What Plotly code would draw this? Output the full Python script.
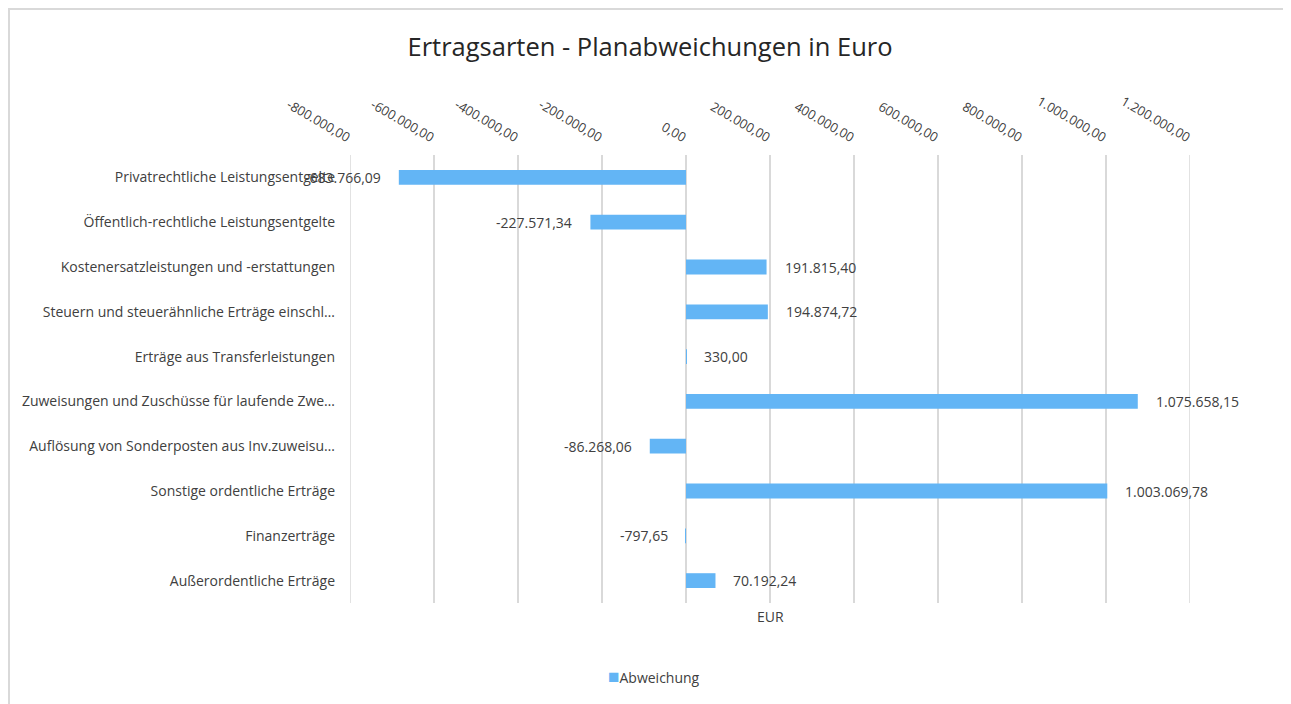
import plotly.graph_objects as go

categories = [
    "Privatrechtliche Leistungsentgelte",
    "Öffentlich-rechtliche Leistungsentgelte",
    "Kostenersatzleistungen und -erstattungen",
    "Steuern und steuerähnliche Erträge einschl…",
    "Erträge aus Transferleistungen",
    "Zuweisungen und Zuschüsse für laufende Zwe…",
    "Auflösung von Sonderposten aus Inv.zuweisu…",
    "Sonstige ordentliche Erträge",
    "Finanzerträge",
    "Außerordentliche Erträge",
]
abweichung = [
    -683766.09,
    -227571.34,
    191815.40,
    194874.72,
    330.00,
    1075658.15,
    -86268.06,
    1003069.78,
    -797.65,
    70192.24,
]
tick_values = [-800000, -600000, -400000, -200000, 0, 200000, 400000, 600000, 800000, 1000000, 1200000]


def de_fmt(v):
    s = f"{v:,.2f}"
    return s.replace(",", "X").replace(".", ",").replace("X", ".")


tick_text = [de_fmt(v) for v in tick_values]
value_text = [de_fmt(v) for v in abweichung]

W, H = 1283, 696
L, R, T, B = 342, 101, 147, 101
pw, ph = W - L - R, H - T - B


def px_x(p):
    return (p - L) / pw


def px_y(p):
    return (H - B - p) / ph


FONT = "Open Sans"
TXT = "#404040"
BAR = "#63B5F5"
GRID = "#d9d9d9"

fig = go.Figure()
fig.add_trace(go.Bar(
    y=categories,
    x=abweichung,
    orientation="h",
    name="Abweichung",
    marker=dict(color=BAR, line=dict(width=0)),
    width=0.33,
    showlegend=False,
))

annotations = []
for cat, val, txt in zip(categories, abweichung, value_text):
    annotations.append(dict(
        x=val, y=cat, xref="x", yref="y",
        text=txt, showarrow=False,
        xanchor="left" if val >= 0 else "right",
        xshift=16 if val >= 0 else -16,
        yanchor="middle",
        font=dict(family=FONT, size=14, color=TXT),
    ))

annotations.append(dict(
    text="EUR", xref="paper", x=0.5, yref="paper", y=0, yshift=-13,
    xanchor="center", yanchor="middle", showarrow=False,
    font=dict(family=FONT, size=14, color=TXT),
))
annotations.append(dict(
    text=f"<span style='color:{BAR};font-size:19px'>■</span>Abweichung",
    xref="paper", x=px_x(646), yref="paper", y=px_y(668),
    xanchor="center", yanchor="middle", showarrow=False,
    font=dict(family=FONT, size=14, color=TXT),
))

shapes = [
    dict(type="line", xref="paper", yref="paper",
         x0=px_x(0), x1=px_x(W), y0=px_y(1), y1=px_y(1),
         line=dict(color=GRID, width=2)),
    dict(type="line", xref="paper", yref="paper",
         x0=px_x(1), x1=px_x(1), y0=px_y(0), y1=px_y(H),
         line=dict(color=GRID, width=2)),
]
# edge gridlines (plotly omits gridlines lying on the plot-area edge)
for tv in (tick_values[0], tick_values[-1]):
    shapes.append(dict(type="line", xref="x", yref="paper",
                       x0=tv, x1=tv, y0=0, y1=1, layer="below",
                       line=dict(color=GRID, width=1.5)))

fig.update_layout(
    width=W, height=H, autosize=False,
    margin=dict(l=L, r=R, t=T, b=B),
    paper_bgcolor="white", plot_bgcolor="white",
    font=dict(family=FONT, size=14, color=TXT),
    title=dict(
        text="Ertragsarten - Planabweichungen in Euro",
        font=dict(family=FONT, size=25.5, color="#262626"),
        xref="container", x=642 / W, xanchor="center",
        yref="container", y=1 - 39 / H, yanchor="middle",
    ),
    showlegend=False,
    xaxis=dict(
        side="top",
        range=[tick_values[0], tick_values[-1]],
        tickvals=tick_values,
        ticktext=tick_text,
        tickangle=30,
        ticklabelstandoff=8,
        tickfont=dict(family=FONT, size=13, color=TXT),
        showgrid=True, gridcolor=GRID, gridwidth=1.5,
        zeroline=False, showline=False,
        ticks="",
    ),
    yaxis=dict(
        autorange="reversed",
        showgrid=False, zeroline=False, showline=False,
        ticks="",
        ticklabelstandoff=14,
        tickfont=dict(family=FONT, size=14, color=TXT),
    ),
    annotations=annotations,
    shapes=shapes,
)

fig.write_html("out.html")
